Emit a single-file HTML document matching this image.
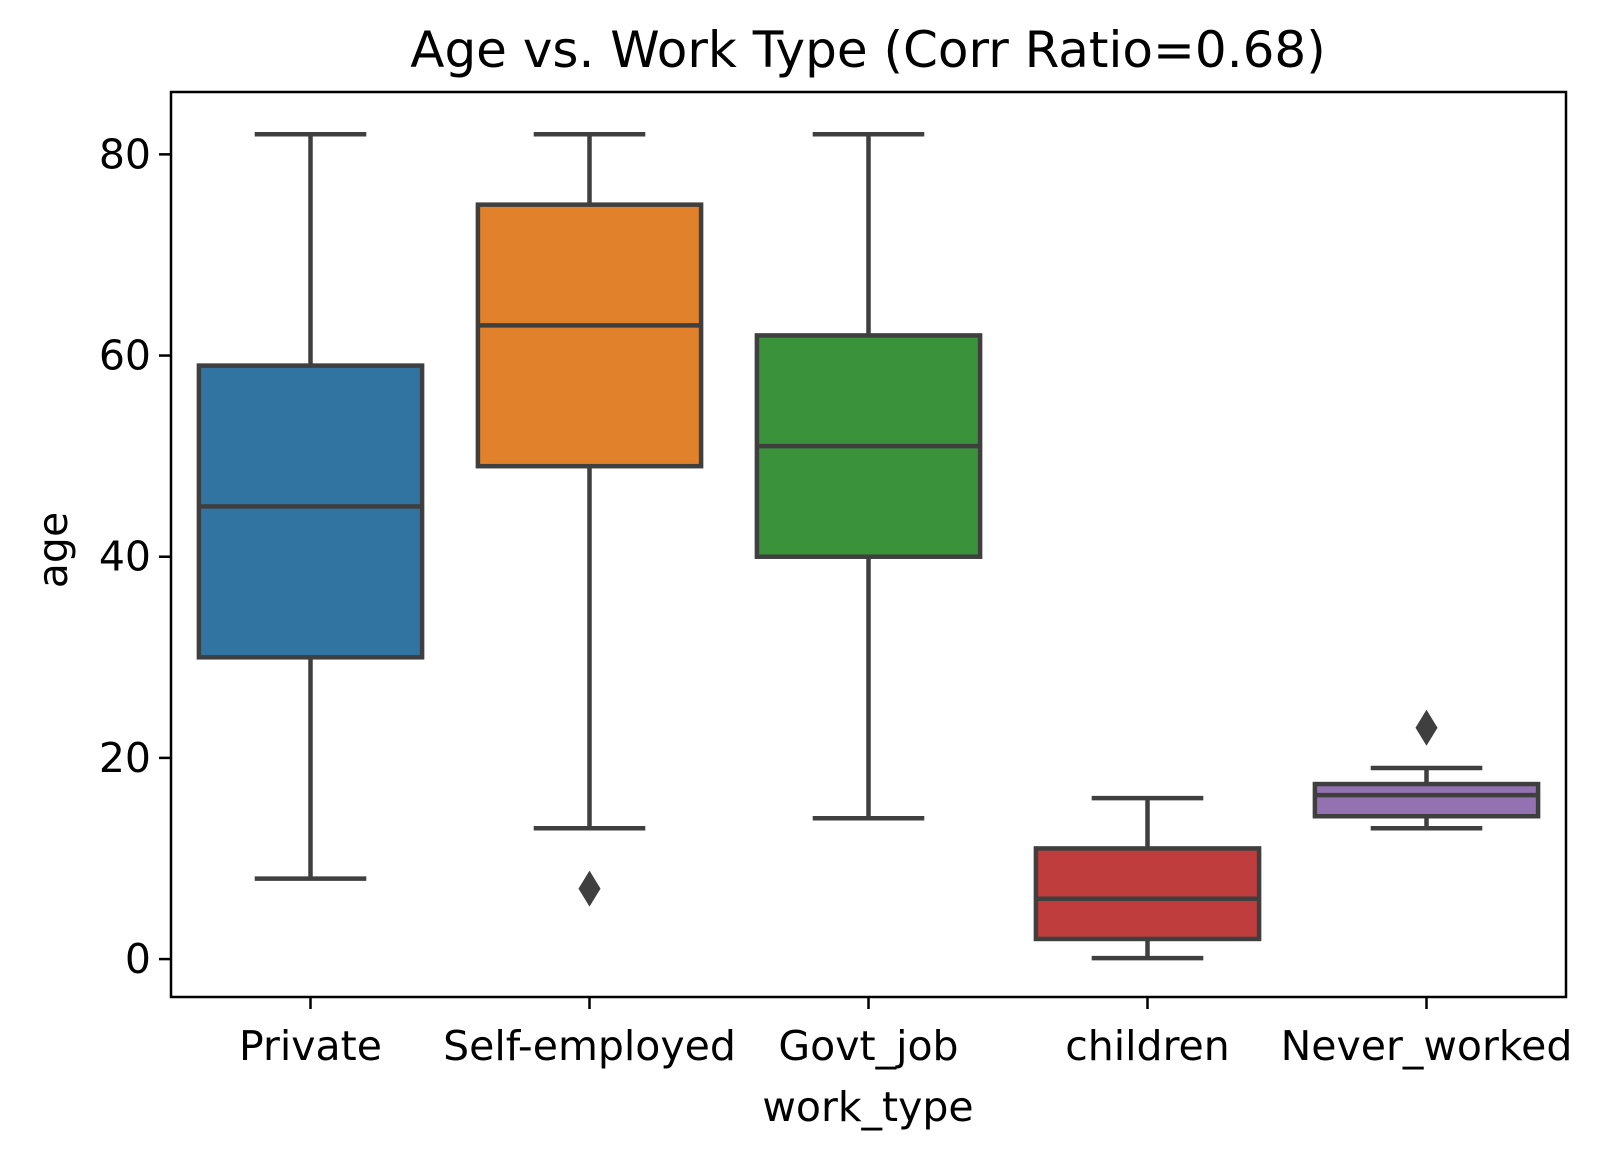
<!DOCTYPE html>
<html><head><meta charset="utf-8"><style>
body{margin:0;background:#fff;}
svg text{font-family:"DejaVu Sans","Liberation Sans",sans-serif;fill:#000;}
</style></head><body>
<svg id="chart" width="1604" height="1160" viewBox="0 0 1604 1160" xmlns="http://www.w3.org/2000/svg">
<text x="868" y="67" font-size="50" text-anchor="middle">Age vs. Work Type (Corr Ratio=0.68)</text>
<g id="plot"></g>
<rect x="171" y="92" width="1395" height="905" fill="none" stroke="#000" stroke-width="2.5"/>
<text x="868" y="1121" font-size="41" text-anchor="middle">work_type</text>
<text x="67" y="550" font-size="41" text-anchor="middle" transform="rotate(-90 67 550)">age</text>
</svg>
<script>
const categories=["Private","Self-employed","Govt_job","children","Never_worked"];
const whiskerLow=[8,13,14,0.1,13];
const q1=[30,49,40,2,14.2];
const median=[45,63,51,6,16.3];
const q3=[59,75,62,11,17.4];
const whiskerHigh=[82,82,82,16,19];
const outliers=[[],[7],[],[],[23]];
const colors=["#3274a1","#e1812c","#3a923a","#c03d3e","#9372b2"];
const yTicks=[0,20,40,60,80];
const L=171,R=1566,T=92,B=997;
const yMin=-3.77,yMax=86.2;
const y=v=>B-(v-yMin)/(yMax-yMin)*(B-T);
const step=(R-L)/categories.length;
const x=i=>L+step*(i+0.5);
const NS="http://www.w3.org/2000/svg";
const g=document.getElementById('plot');
const svg=document.getElementById('chart');
function mk(tag,attrs,parent){const e=document.createElementNS(NS,tag);for(const k in attrs)e.setAttribute(k,attrs[k]);(parent||g).appendChild(e);return e;}
const st="#3f3f3f";
yTicks.forEach(t=>{
 const tk=mk('line',{x1:L-12,x2:L,y1:y(t),y2:y(t),stroke:'#000','stroke-width':2.5},svg);
 
 
 const tx=mk('text',{x:L-20,y:y(t)+14,'font-size':41,'text-anchor':'end'},svg);
 tx.textContent=t;
 
 
});
categories.forEach((c,i)=>{
 const cx=x(i),bw=step*0.8,cw=bw/2;
 const w1=mk('line',{x1:cx,x2:cx,y1:y(whiskerLow[i]),y2:y(q1[i]),stroke:st,'stroke-width':4.5});
 
 
 const w2=mk('line',{x1:cx,x2:cx,y1:y(q3[i]),y2:y(whiskerHigh[i]),stroke:st,'stroke-width':4.5});
 
 
 [whiskerLow[i],whiskerHigh[i]].forEach(v=>{
  const cap=mk('line',{x1:cx-cw/2,x2:cx+cw/2,y1:y(v),y2:y(v),stroke:st,'stroke-width':4.5});
  
  
 });
 const box=mk('rect',{x:cx-bw/2,y:y(q3[i]),width:bw,height:y(q1[i])-y(q3[i]),fill:colors[i],stroke:st,'stroke-width':4.5});
 
 
 const md=mk('line',{x1:cx-bw/2,x2:cx+bw/2,y1:y(median[i]),y2:y(median[i]),stroke:st,'stroke-width':4.5});
 
 
 outliers[i].forEach(v=>{
  const oy=y(v);
  const o=mk('polygon',{points:`${cx},${oy-18} ${cx+11},${oy} ${cx},${oy+18} ${cx-11},${oy}`,fill:st});
  
  
 });
 const tk=mk('line',{x1:cx,x2:cx,y1:B,y2:B+12,stroke:'#000','stroke-width':2.5},svg);
 
 
 const tx=mk('text',{x:cx,y:B+63,'font-size':41,'text-anchor':'middle'},svg);
 tx.textContent=c;
 
 
});
</script>
</body></html>
